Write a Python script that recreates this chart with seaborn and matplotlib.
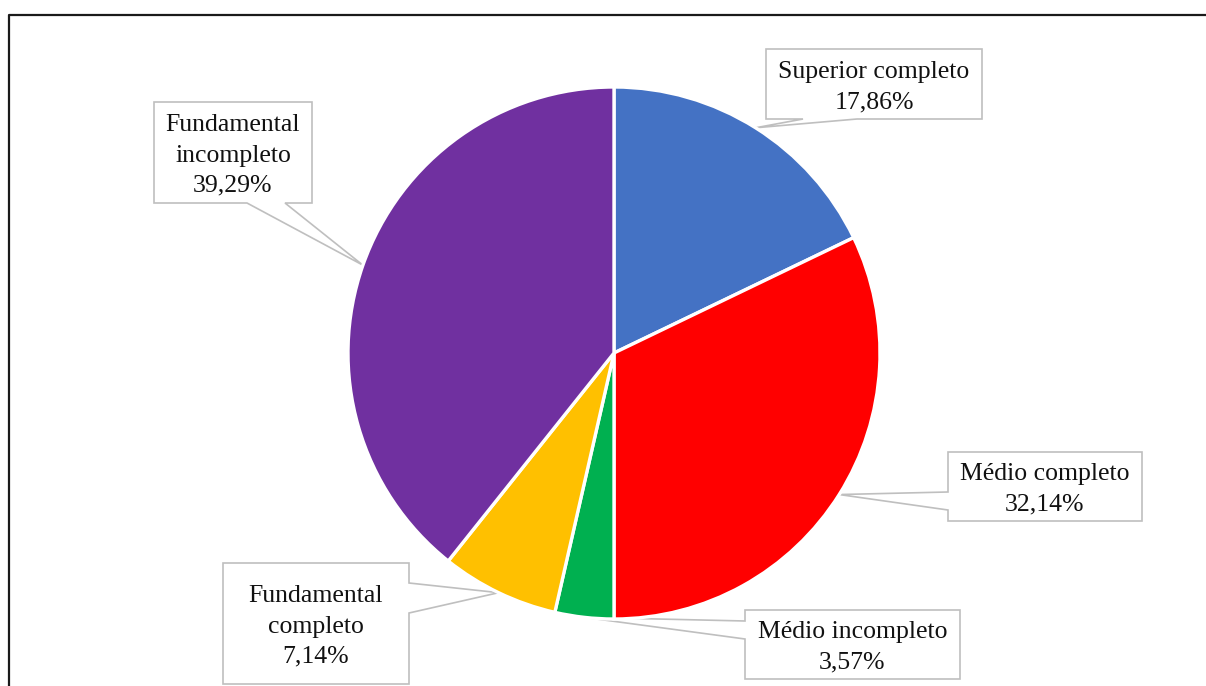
import numpy as np
import matplotlib
matplotlib.use("Agg")
import matplotlib.pyplot as plt
from matplotlib.patches import Polygon
from matplotlib.lines import Line2D
import seaborn as sns

# Escolaridade dos respondentes
categorias = ["Superior completo", "Médio completo", "Médio incompleto",
              "Fundamental completo", "Fundamental incompleto"]
rotulos = ["Superior completo", "Médio completo", "Médio incompleto",
           "Fundamental\ncompleto", "Fundamental\nincompleto"]
percentuais = [17.86, 32.14, 3.57, 7.14, 39.29]
cores = ["#4472C4", "#FF0000", "#00B050", "#FFC000", "#7030A0"]

sns.set_theme(style="white")
plt.rcParams["font.family"] = ["Liberation Serif", "DejaVu Serif"]

W, H = 1206, 686
fig = plt.figure(figsize=(W / 100, H / 100), dpi=100)
ax = fig.add_axes([0, 0, 1, 1])

# pie centre and radius in pixels
CX, CY, R = 614, 353, 266


def px(x, y):
    return ((x - CX) / R, (CY - y) / R)


wedges, _ = ax.pie(percentuais, colors=cores, startangle=90, counterclock=False,
                   radius=1.0, wedgeprops=dict(edgecolor="white", linewidth=2.4))
for w in wedges:
    w.set_zorder(3)

ax.set_xlim(px(0, 0)[0], px(W, 0)[0])
ax.set_ylim(px(0, H)[1], px(0, 0)[1])
ax.set_aspect("auto")
ax.axis("off")

# callout boxes: (x0, y0, x1, y1) in pixels, side of the pointer, pointer base span
caixas = [
    ((766, 49, 982, 119), "bottom", 803, 857),
    ((948, 452, 1142, 521), "left", 492, 510),
    ((745, 610, 960, 679), "left", 621, 639),
    ((223, 563, 409, 684), "right", 583, 613),
    ((154, 102, 312, 203), "bottom", 247, 285),
]

for w, lab, val, (box, side, b0, b1) in zip(wedges, rotulos, percentuais, caixas):
    ang = np.deg2rad((w.theta1 + w.theta2) / 2)
    tip = (np.cos(ang), np.sin(ang))
    x0, y0, x1, y1 = box
    if side == "bottom":
        pts = [px(x0, y0), px(x1, y0), px(x1, y1), px(b1, y1), tip, px(b0, y1), px(x0, y1)]
    elif side == "left":
        pts = [px(x0, y0), px(x1, y0), px(x1, y1), px(x0, y1), px(x0, b1), tip, px(x0, b0)]
    else:
        pts = [px(x0, y0), px(x1, y0), px(x1, b0), tip, px(x1, b1), px(x1, y1), px(x0, y1)]
    ax.add_patch(Polygon(pts, closed=True, facecolor="white", edgecolor="#BFBFBF",
                         linewidth=1.2, zorder=2))
    texto = f"{lab}\n{val:.2f}%".replace(".", ",")
    tx, ty = px((x0 + x1) / 2, (y0 + y1) / 2 + 3)
    ax.text(tx, ty, texto, ha="center", va="center", fontsize=18.5,
            color="#111111", linespacing=1.48, zorder=4)

# outer frame
fig.add_artist(Line2D([8.5 / W, 8.5 / W, 1.0], [0.0, 1 - 15 / H, 1 - 15 / H],
                      transform=fig.transFigure, color="#1a1a1a", linewidth=1.6))

fig.savefig("out.png", dpi=100, facecolor="white")
